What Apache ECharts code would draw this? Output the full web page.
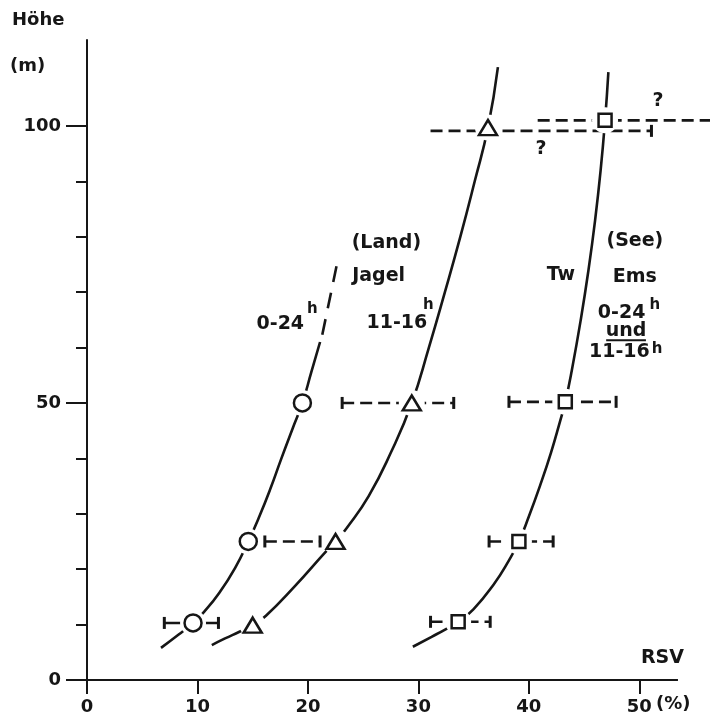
<!DOCTYPE html>
<html>
<head>
<meta charset="utf-8">
<script src="https://cdn.jsdelivr.net/npm/echarts@6/dist/echarts.min.js"></script>
<style>html,body{margin:0;padding:0;background:#fff}#c{width:710px;height:720px}</style>
</head>
<body>
<div id="c"></div>
<script>
// ---- data (RSV in %, Höhe in m) ----
const xTickValues = [0, 10, 20, 30, 40, 50];
const xAxisEnd = 53.5;
const yMinorTicks = [10, 20, 30, 40, 60, 70, 80, 90];
const yMajorTicks = [0, 50, 100];

// Land Jagel 0-24h (circles)
const jagel24Points = [[9.6, 10.3], [14.6, 25], [19.5, 50]];
const jagel24Curve = [[6.7, 5.8], [8.3, 8.2], [9.6, 10.3], [10.6, 12.3], [12.0, 15.8], [13.4, 20.2], [14.6, 25], [15.6, 29.5], [16.6, 34.5], [17.6, 40], [18.6, 45.3], [19.5, 50], [20.3, 55.5], [21.1, 61]];
const jagel24CurveExt = [[21.3, 62.3], [22.6, 74.8]];

// Land Jagel 11-16h (triangles)
const jagel1116Points = [[15.0, 9.9], [22.5, 25], [29.4, 50], [36.3, 99.7]];
const jagel1116Curve = [[11.3, 6.3], [12.5, 7.5], [13.8, 8.7], [15.0, 9.9], [16.2, 11.6], [18.8, 16.9], [21.5, 22.9], [22.5, 25], [23.5, 27.4], [25.5, 33.2], [27.5, 41], [29.4, 50], [30.95, 60], [32.4, 70], [33.8, 80], [35.1, 90], [36.3, 99.7], [37.2, 110.6]];

// See Ems 0-24h und 11-16h (squares)
const emsPoints = [[33.6, 10.5], [39.1, 25], [43.3, 50.2], [46.9, 101]];
const emsCurve = [[29.5, 6.0], [31.2, 7.8], [32.5, 9.2], [33.6, 10.5], [35.0, 12.8], [36.8, 17.2], [38.2, 21.6], [39.1, 25], [40.0, 29.5], [41.0, 35], [42.0, 41], [42.8, 46.5], [43.3, 50.2], [43.9, 56], [44.7, 65], [45.4, 74], [46.0, 83], [46.5, 92], [46.9, 101], [47.2, 109.7]];

// error ranges [from, to, height]
const solidRanges = [[7.0, 11.9, 10.3]];
const dashedRanges = [[16.1, 21.1, 25], [23.1, 33.2, 50], [31.1, 36.5, 10.5], [36.4, 42.2, 25], [38.2, 47.9, 50.2], [31.1, 51.1, 99.1], [40.8, 56.5, 101]];
const rangeEnds = [[7.0, 10.3], [11.9, 10.3], [16.1, 25], [21.1, 25], [23.1, 50], [33.2, 50], [31.1, 10.5], [36.5, 10.5], [36.4, 25], [42.2, 25], [38.2, 50.2], [47.9, 50.2], [51.1, 99.1]];

// annotations [x, y, text]
const annotations = [
  [27.1, 78.9, '(Land)'], [26.4, 72.9, 'Jagel'], [28.05, 64.5, '11-16'], [17.5, 64.2, '0-24'],
  [42.9, 73.0, 'Tw'], [49.6, 79.3, '(See)'], [49.6, 72.7, 'Ems'], [48.4, 66.2, '0-24'],
  [48.8, 63.0, 'und'], [48.2, 59.1, '11-16'], [52.1, 3.9, 'RSV'],
  [51.7, 104.4, '?'], [41.1, 95.8, '?']
];
const superscripts = [[30.9, 67.6, 'h'], [20.4, 67.0, 'h'], [51.4, 67.7, 'h'], [51.6, 59.8, 'h']];
const undUnderline = [[47.0, 61.3], [50.6, 61.3]];

// ---- chart ----
const INK = '#161616';
const FONT = '"DejaVu Sans", sans-serif';
const chart = echarts.init(document.getElementById('c'), null, {renderer: 'canvas'});

function lineSeries(data, extra) {
  const s = {type: 'line', data: data, symbol: 'none', showSymbol: false, silent: true, clip: false,
    z: 2, lineStyle: {color: INK, width: 2.6, cap: 'butt', opacity: 1}};
  return Object.assign(s, extra || {});
}

const series = [];
// x axis line drawn as a series so the axis range can run to the page edge
series.push(lineSeries([[0, 0], [xAxisEnd, 0]], {lineStyle: {color: INK, width: 2}}));
series.push(lineSeries(jagel24Curve, {smooth: 0.5}));
series.push(lineSeries(jagel24CurveExt, {lineStyle: {color: INK, width: 2.6, type: [16, 11]}}));
series.push(lineSeries(jagel1116Curve, {smooth: 0.5}));
series.push(lineSeries(emsCurve, {smooth: 0.5}));
solidRanges.forEach(r => series.push(lineSeries([[r[0], r[2]], [r[1], r[2]]])));
dashedRanges.forEach(r => series.push(lineSeries([[r[0], r[2]], [r[1], r[2]]], {lineStyle: {color: INK, width: 2.6, type: [12, 6]}})));
series.push(lineSeries(undUnderline, {lineStyle: {color: INK, width: 2}}));

// white gaps around markers
series.push({type: 'scatter', silent: true, z: 3, clip: false, symbol: 'circle', symbolSize: 26,
  itemStyle: {color: '#fff', opacity: 1}, data: jagel24Points.concat(jagel1116Points, emsPoints)});

const markStyle = {color: '#fff', borderColor: INK, borderWidth: 2.5, opacity: 1};
series.push({type: 'scatter', silent: true, z: 4, symbol: 'circle', symbolSize: 17, itemStyle: markStyle, data: jagel24Points});
series.push({type: 'scatter', silent: true, z: 4, symbol: 'triangle', symbolSize: [18, 15], itemStyle: markStyle, data: jagel1116Points});
series.push({type: 'scatter', silent: true, z: 4, symbol: 'rect', symbolSize: 13, itemStyle: markStyle, data: emsPoints});
series.push({type: 'scatter', silent: true, z: 4, clip: false, symbol: 'rect', symbolSize: [3, 12], itemStyle: {color: INK, opacity: 1}, data: rangeEnds});

function textSeries(list, size) {
  return {type: 'scatter', silent: true, z: 5, clip: false, symbol: 'circle', symbolSize: 1,
    itemStyle: {color: 'rgba(0,0,0,0)', opacity: 1},
    label: {show: true, position: 'inside', color: INK, fontFamily: FONT, fontWeight: 'bold', fontSize: size,
      formatter: p => p.data.t},
    data: list.map(a => ({value: [a[0], a[1]], t: a[2]}))};
}
series.push(textSeries(annotations, 19));
series.push(textSeries(superscripts, 15));

const axisLabelStyle = {color: INK, fontFamily: FONT, fontWeight: 'bold', fontSize: 18};

chart.setOption({
  animation: false,
  backgroundColor: '#fff',
  grid: {left: 87, right: 0, top: 40, bottom: 40, containLabel: false},
  xAxis: {type: 'value', min: 0, max: 56.4,
    axisLine: {show: false},
    axisTick: {show: true, length: 14, customValues: xTickValues, lineStyle: {color: INK, width: 2}},
    axisLabel: Object.assign({margin: 18, customValues: xTickValues}, axisLabelStyle),
    splitLine: {show: false}},
  yAxis: [
    {type: 'value', min: 0, max: 115.5, position: 'left',
      axisLine: {show: true, onZero: false, lineStyle: {color: INK, width: 2}},
      axisTick: {show: true, length: 11, customValues: yMinorTicks, lineStyle: {color: INK, width: 2}},
      axisLabel: {show: false}, splitLine: {show: false}},
    {type: 'value', min: 0, max: 115.5, position: 'left',
      axisLine: {show: false},
      axisTick: {show: true, length: 21, customValues: yMajorTicks, lineStyle: {color: INK, width: 2}},
      axisLabel: Object.assign({margin: 26, customValues: yMajorTicks}, axisLabelStyle),
      splitLine: {show: false}}
  ],
  graphic: [
    {type: 'text', left: 12, top: 11, style: {text: 'Höhe', fill: INK, font: 'bold 18px ' + FONT}},
    {type: 'text', left: 10, top: 57, style: {text: '(m)', fill: INK, font: 'bold 18px ' + FONT}},
    {type: 'text', left: 656, top: 695, style: {text: '(%)', fill: INK, font: 'bold 18px ' + FONT}}
  ],
  series: series
});
</script>
</body>
</html>
